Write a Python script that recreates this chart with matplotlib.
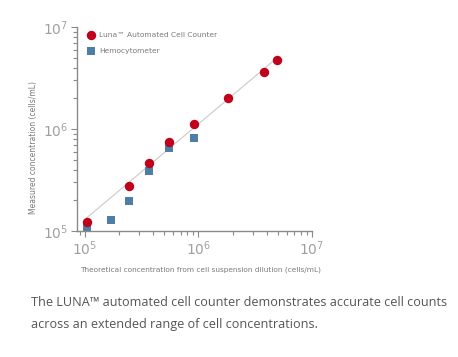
import numpy as np
import matplotlib
matplotlib.use('Agg')
import matplotlib.pyplot as plt
from matplotlib.ticker import LogLocator, NullFormatter

# theoretical dilution (x) vs measured concentration (y), cells/mL
luna_x = [1.04e5, 2.46e5, 3.69e5, 5.53e5, 9.2e5, 1.83e6, 3.8e6, 4.92e6]
luna_y = [1.23e5, 2.78e5, 4.68e5, 7.46e5, 1.12e6, 2.01e6, 3.62e6, 4.75e6]
hemo_x = [1.04e5, 1.71e5, 2.46e5, 3.69e5, 5.53e5, 9.2e5]
hemo_y = [1.08e5, 1.29e5, 1.98e5, 3.87e5, 6.52e5, 8.22e5]

labels = ['Luna\u2122 Automated Cell Counter', 'Hemocytometer']
caption = ('The LUNA\u2122 automated cell counter demonstrates accurate cell counts\n'
           'across an extended range of cell concentrations.')

red = '#c1001b'
blue = '#4e7ea6'
grey = '#8a8a8a'

fig = plt.figure(figsize=(4.58, 3.57), dpi=100)
ax = fig.add_axes([0.168, 0.353, 0.513, 0.571])

# fitted line through the Luna points
k, b = np.polyfit(np.log10(luna_x), np.log10(luna_y), 1)
fx = np.array([min(luna_x), max(luna_x)])
ax.plot(fx, 10 ** (k * np.log10(fx) + b), color='#cfcfcf', lw=0.9, zorder=1)

ax.scatter(hemo_x, hemo_y, marker='s', s=28, color=blue, lw=0, zorder=2)
ax.scatter(luna_x, luna_y, marker='o', s=46, color=red, lw=0, zorder=3)

ax.set_xscale('log')
ax.set_yscale('log')
ax.set_xlim(10 ** 4.93, 1e7)
ax.set_ylim(1e5, 1e7)

for s in ['top', 'right']:
    ax.spines[s].set_visible(False)
for s in ['left', 'bottom']:
    ax.spines[s].set_color(grey)
    ax.spines[s].set_linewidth(1.0)

ax.xaxis.set_minor_locator(LogLocator(base=10, subs=np.arange(2, 10)))
ax.yaxis.set_minor_locator(LogLocator(base=10, subs=np.arange(2, 10)))
ax.xaxis.set_minor_formatter(NullFormatter())
ax.yaxis.set_minor_formatter(NullFormatter())
ax.tick_params(which='both', color=grey, width=0.8, labelcolor='#a0a0a0')
ax.tick_params(which='major', length=4, labelsize=10)
ax.tick_params(which='minor', length=3)
ax.tick_params(axis='x', pad=2)
ax.tick_params(axis='y', pad=2)

ax.set_xlabel('Theoretical concentration from cell suspension dilution (cells/mL)',
              fontsize=5.3, color='#7a7a7a', family='Liberation Sans Narrow')
ax.xaxis.set_label_coords(0.525, -0.175)
ax.set_ylabel('Measured concentration (cells/mL)', fontsize=5.5, color='#7a7a7a',
              family='Liberation Sans Narrow')
ax.yaxis.set_label_coords(-0.165, 0.41)

h1 = ax.scatter([], [], marker='o', s=46, color=red, lw=0)
h2 = ax.scatter([], [], marker='s', s=28, color=blue, lw=0)
leg = ax.legend([h1, h2], labels, loc='upper left', bbox_to_anchor=(0.0, 1.01),
                frameon=False, handletextpad=0.1, labelspacing=1.25,
                prop={'family': 'Liberation Sans Narrow', 'size': 5.4})
for t in leg.get_texts():
    t.set_color('#7a7a7a')

fig.text(0.068, 0.122, caption, fontsize=9.1, color='#555555', family='Open Sans',
         va='center', ha='left', linespacing=1.95)

fig.savefig('out.png', dpi=100)
